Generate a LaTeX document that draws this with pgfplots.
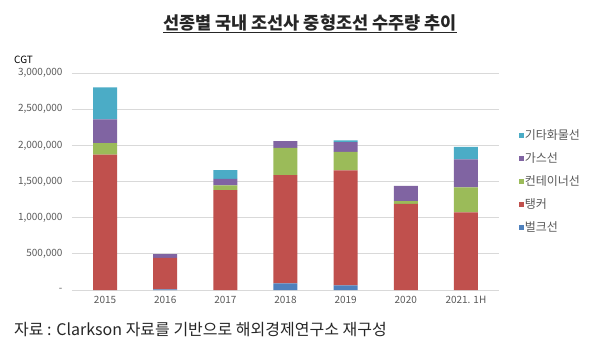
\documentclass[border=0pt]{standalone}
\usepackage{pgfplots}
\pgfplotsset{compat=1.18}
\usepackage{fontspec}
\setmainfont{Noto Sans CJK KR}
\definecolor{cBulk}{HTML}{4F81BD}
\definecolor{cTank}{HTML}{C0504D}
\definecolor{cCont}{HTML}{9BBB59}
\definecolor{cGas}{HTML}{8064A2}
\definecolor{cOther}{HTML}{4BACC6}
\definecolor{tickgray}{HTML}{595959}
\definecolor{gridgray}{HTML}{D9D9D9}
\begin{document}
\begin{tikzpicture}
\path[use as bounding box] (0pt,0pt) rectangle (600pt,-361pt);
\node[font=\fontsize{17.5}{19}\selectfont\bfseries, text=black!85] at (310pt,-24pt) {\underline{선종별 국내 조선사 중형조선 수주량 추이}};
\node[anchor=west, font=\fontsize{10}{12}\selectfont, inner sep=0] at (14pt,-60pt) {CGT};
\node[anchor=west, font=\fontsize{16}{18}\selectfont, inner sep=0, text=black!85] at (14pt,-330pt) {자료 : Clarkson 자료를 기반으로 해외경제연구소 재구성};
\begin{axis}[
  at={(72pt,-290pt)}, anchor=south west,
  scale only axis, width=427pt, height=217pt,
  ybar stacked, bar width=24pt,
  xmin=-0.55, xmax=6.55, ymin=0, ymax=3000000,
  scaled y ticks=false,
  xtick=data, xticklabels={2015,2016,2017,2018,2019,2020,{2021. 1H}},
  ytick={0,500000,1000000,1500000,2000000,2500000,3000000},
  yticklabels={-,{500,000},{1,000,000},{1,500,000},{2,000,000},{2,500,000},{3,000,000}},
  tick label style={font=\fontsize{10}{11}\selectfont, text=tickgray},
  ymajorgrids, grid style={gridgray, line width=0.8pt},
  axis line style={draw=none},
  axis x line*=bottom,
  x axis line style={draw=gridgray, line width=0.8pt},
  major tick length=0pt,
  yticklabel style={xshift=-6pt},
  xticklabel style={yshift=-3pt},
  legend cell align=left,
  reverse legend,
  legend style={at={(1.047,0.74)}, anchor=north west, draw=none, fill=none,
    font=\fontsize{12}{13}\selectfont, text=tickgray, row sep=11pt, inner sep=0pt,
    nodes={inner sep=1pt, text height=8.5pt, text depth=1.5pt}},
  legend image code/.code={\fill[#1] (0pt,-2.25pt) rectangle (4.5pt,2.25pt);},
  every axis plot/.append style={draw=none},
]
\addplot[fill=cBulk] coordinates {(0,0) (1,10000) (2,0) (3,93000) (4,65000) (5,0) (6,0)};
\addplot[fill=cTank] coordinates {(0,1870000) (1,435000) (2,1381000) (3,1495000) (4,1588000) (5,1192000) (6,1073000)};
\addplot[fill=cCont] coordinates {(0,160000) (1,0) (2,65000) (3,378000) (4,257000) (5,37000) (6,345000)};
\addplot[fill=cGas] coordinates {(0,330000) (1,52000) (2,91000) (3,92000) (4,134000) (5,211000) (6,387000)};
\addplot[fill=cOther] coordinates {(0,440000) (1,0) (2,120000) (3,0) (4,26000) (5,0) (6,175000)};
\legend{벌크선,탱커,컨테이너선,가스선,기타화물선}
\end{axis}
\end{tikzpicture}
\end{document}
